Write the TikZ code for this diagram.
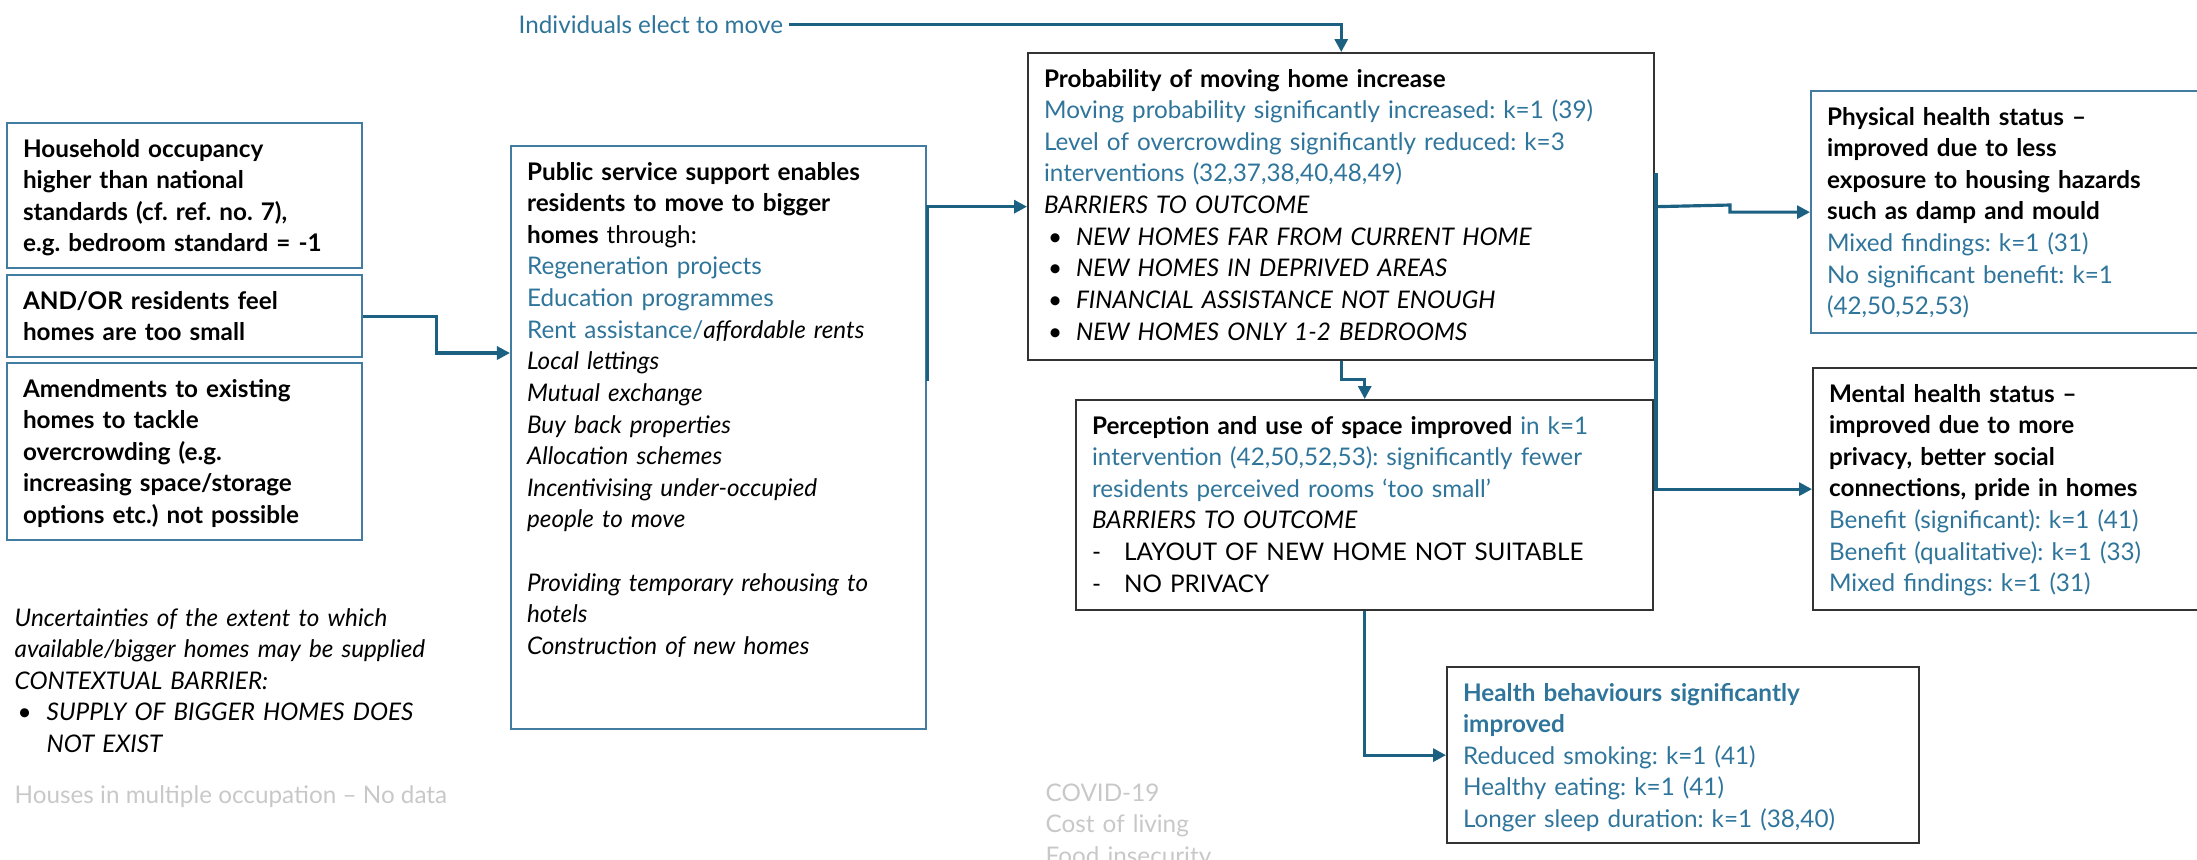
\documentclass[tikz,border=0pt]{standalone}
\usepackage{fontspec}
\setmainfont{Lato}
\usetikzlibrary{arrows.meta}
\definecolor{lineblue}{RGB}{28,96,130}
\definecolor{textblue}{RGB}{47,117,155}
\definecolor{boxblue}{RGB}{66,124,160}
\definecolor{notegray}{RGB}{200,200,200}
\frenchspacing
\newcommand\boxfont{\fontsize{6.9pt}{8.99pt}\selectfont}
\newcommand\blue[1]{\textcolor{textblue}{#1}}
\newcommand\bul{\makebox[0.32cm][l]{\hspace{0.04cm}\textbullet}}
\newcommand\dashitem{\makebox[0.32cm][l]{-}}
\tikzset{
  wire/.style={draw=lineblue, line width=0.9pt},
  conn/.style={wire, -{Triangle[length=3.7pt,width=3.7pt]}},
  box/.style={draw=boxblue, line width=0.6pt, anchor=north west, align=left,
    inner xsep=0.16cm, inner ysep=0pt, text height=0.34cm, font=\boxfont},
  darkbox/.style={box, draw=black!80},
  note/.style={anchor=base west, inner sep=0pt, align=left, font=\boxfont},
}
\begin{document}
\begin{tikzpicture}[x=0.01cm,y=-0.01cm]
\useasboundingbox (0,0) rectangle (2197,859);
\clip (0,0) rectangle (2197,859);

\node[box, text width=3.23cm, text depth=1.11cm] (occupancy) at (6,122)
  {\bfseries Household occupancy\\ higher than national\\ standards (cf. ref. no. 7),\\ e.g. bedroom standard = -1};
\node[box, text width=3.23cm, text depth=0.48cm] (feel) at (6,274)
  {\bfseries AND/OR residents feel\\ homes are too small};
\node[box, text width=3.23cm, text depth=1.43cm] (amend) at (6,362)
  {\bfseries Amendments to existing\\ homes to tackle\\ overcrowding (e.g.\\ increasing space/storage\\ options etc.) not possible};

\node[box, text width=3.83cm, text depth=5.49cm] (support) at (510,145)
  {{\bfseries Public service support enables\\ residents to move to bigger\\ homes} through:\\
   \blue{Regeneration projects}\\
   \blue{Education programmes}\\
   \blue{Rent assistance/}\textit{affordable rents}\\
   \textit{Local lettings}\\
   \textit{Mutual exchange}\\
   \textit{Buy back properties}\\
   \textit{Allocation schemes}\\
   \textit{Incentivising under-occupied}\\
   \textit{people to move}\\[0.316cm]
   \textit{Providing temporary rehousing to}\\
   \textit{hotels}\\
   \textit{Construction of new homes}};

\node[darkbox, text width=5.94cm, text depth=2.73cm] (prob) at (1027,52)
  {\textbf{Probability of moving home increase}\\
   \blue{Moving probability significantly increased: k=1 (39)}\\
   \blue{Level of overcrowding significantly reduced: k=3}\\
   \blue{interventions (32,37,38,40,48,49)}\\
   \textit{BARRIERS TO OUTCOME}\\
   \bul\textit{NEW HOMES FAR FROM CURRENT HOME}\\
   \bul\textit{NEW HOMES IN DEPRIVED AREAS}\\
   \bul\textit{FINANCIAL ASSISTANCE NOT ENOUGH}\\
   \bul\textit{NEW HOMES ONLY 1-2 BEDROOMS}};

\node[darkbox, text width=5.45cm, text depth=1.76cm] (space) at (1075,399)
  {\textbf{Perception and use of space improved} \blue{in k=1}\\
   \blue{intervention (42,50,52,53): significantly fewer}\\
   \blue{residents perceived rooms ‘too small’}\\
   \textit{BARRIERS TO OUTCOME}\\
   \dashitem LAYOUT OF NEW HOME NOT SUITABLE\\
   \dashitem NO PRIVACY};

\node[box, text width=3.88cm, text depth=2.08cm] (physical) at (1810,90)
  {{\bfseries Physical health status –\\ improved due to less\\ exposure to housing hazards\\ such as damp and mould}\\
   \blue{Mixed findings: k=1 (31)}\\
   \blue{No significant benefit: k=1}\\
   \blue{(42,50,52,53)}};

\node[darkbox, text width=3.86cm, text depth=2.08cm] (mental) at (1812,367)
  {{\bfseries Mental health status –\\ improved due to more\\ privacy, better social\\ connections, pride in homes}\\
   \blue{Benefit (significant): k=1 (41)}\\
   \blue{Benefit (qualitative): k=1 (33)}\\
   \blue{Mixed findings: k=1 (31)}};

\node[darkbox, text=textblue, text width=4.40cm, text depth=1.42cm] (behaviour) at (1446,666)
  {{\bfseries Health behaviours significantly\\ improved}\\
   Reduced smoking: k=1 (41)\\
   Healthy eating: k=1 (41)\\
   Longer sleep duration: k=1 (38,40)};

\node[note, text=textblue, inner xsep=0.05cm] (elect) at (513,33) {Individuals elect to move};

\node[note, text width=4.8cm] (uncertain) at (14,626)
  {\itshape Uncertainties of the extent to which\\
   available/bigger homes may be supplied\\
   CONTEXTUAL BARRIER:\\
   \makebox[0.32cm][l]{\hspace{0.03cm}\textbullet}SUPPLY OF BIGGER HOMES DOES\\
   \hspace*{0.32cm}NOT EXIST};
\node[note, text=notegray] (hmo) at (14,803) {Houses in multiple occupation – No data};
\node[note, text=notegray, text width=2cm] (context) at (1045,801)
  {COVID-19\\ Cost of living\\ Food insecurity};

\coordinate (trunk) at (1656,173);

\draw[conn] (elect.east) -| (prob.north);
\draw[conn] (feel.east) -- ++(73,0) |- (support.west |- 0,353);
\draw[conn] (support.east |- 0,381) |- (prob.west);
\draw[conn] (prob.south) -- ++(0,18) -| (space.north);
\draw[conn] (trunk) |- (mental.west);
\draw[conn] (trunk |- prob.west) -- (1730,205) |- (physical.west);
\draw[conn] (space.south) |- (behaviour.west);
\end{tikzpicture}
\end{document}
